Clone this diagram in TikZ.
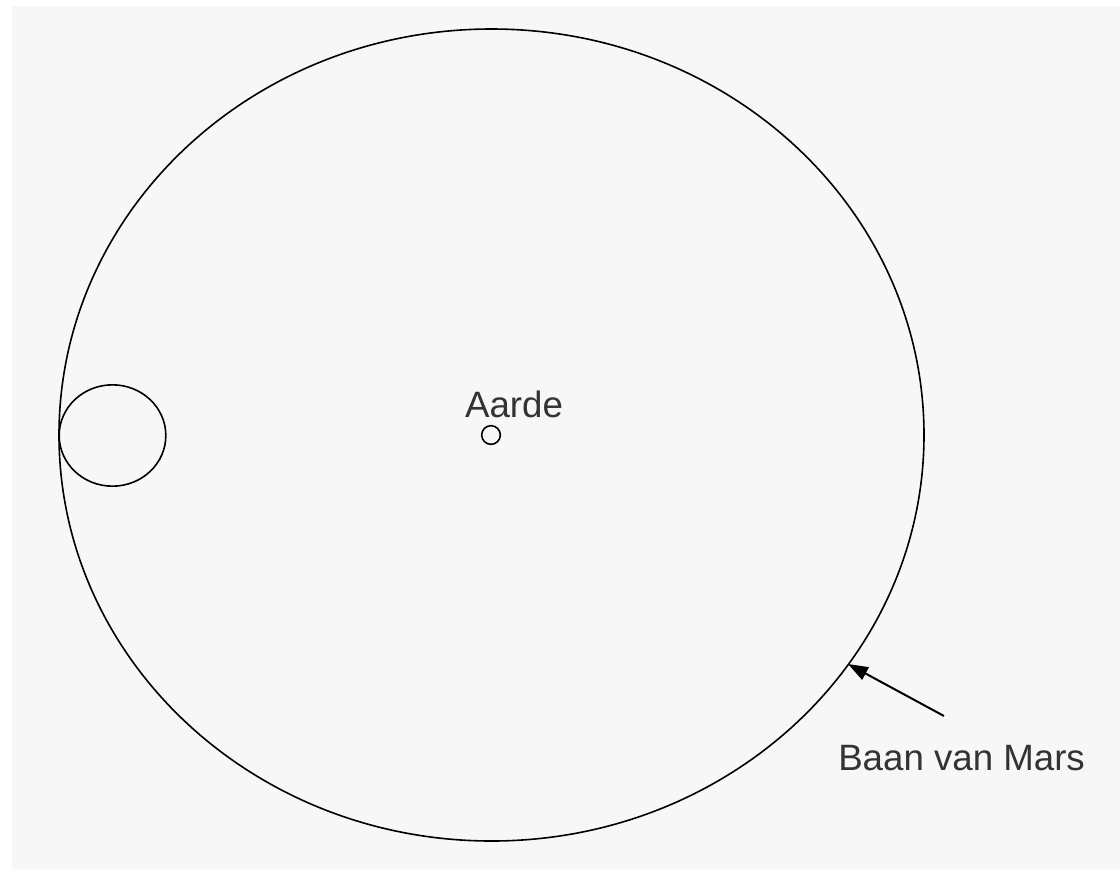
\documentclass[tikz,border=0pt]{standalone}
\usepackage{fontspec}
\setmainfont{Liberation Sans}
\usetikzlibrary{arrows.meta,shapes.geometric}
\definecolor{bgcol}{HTML}{F7F7F7}
\definecolor{txtcol}{HTML}{333333}

\begin{document}
\begin{tikzpicture}[x=0.75pt,y=-0.75pt,>={Triangle[length=15pt,width=10.5pt]},
  orbit/.style={draw=black,line width=1.2pt},
  body/.style={circle,draw=black,line width=1.2pt,inner sep=0pt},
  lbl/.style={text=txtcol,font=\fontsize{27.5}{32}\selectfont,inner sep=0pt}]
\useasboundingbox (0,0) rectangle (1120,869);
\fill[bgcol] (12,6) rectangle (1120,869);
% baan van Mars rond de Aarde
\coordinate (centre) at (491.5,435);
\draw[orbit] (centre) ellipse [x radius=432.5,y radius=406];
\node[body,minimum size=14pt] (aarde) at (491,435) {};
\node[lbl,anchor=base] (aardelbl) at (514,417) {Aarde};
\node[orbit,ellipse,minimum width=80pt,minimum height=76pt,inner sep=0pt] (mars) at (112.5,435.5) {};
% pijl naar de baan
\coordinate (baanpt) at (848,664);
\coordinate (pijlstart) at (944,716);
\draw[->,line width=1.5pt] (pijlstart) -- (baanpt);
\node[lbl,anchor=base west] (baanlbl) at (838,770) {Baan van Mars};
\end{tikzpicture}
\end{document}
